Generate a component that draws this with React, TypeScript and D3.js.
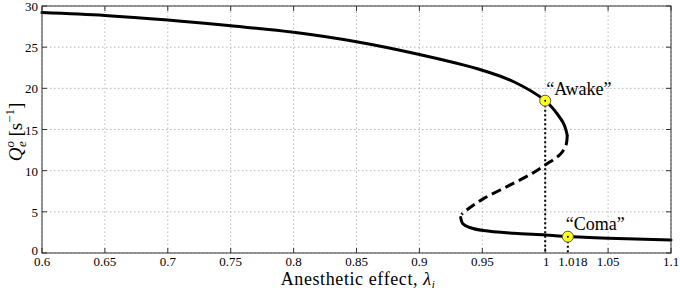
import React from "react";
import * as d3 from "d3";

const xTicks = [0.6, 0.65, 0.7, 0.75, 0.8, 0.85, 0.9, 0.95, 1, 1.018, 1.05, 1.1];
const xGridTicks = [0.6, 0.65, 0.7, 0.75, 0.8, 0.85, 0.9, 0.95, 1, 1.05, 1.1];
const yTicks = [0, 5, 10, 15, 20, 25, 30];

// [lambda, Q] points
const upperBranch: [number, number][] = [
  [0.6, 29.2], [0.65, 28.85], [0.7, 28.3], [0.75, 27.6], [0.8, 26.8], [0.85, 25.65],
  [0.9, 24.1], [0.95, 22.2], [0.975, 20.8], [1.0, 18.5], [1.009, 17.0], [1.015, 15.6],
  [1.0175, 14.3],
];
const unstableBranch: [number, number][] = [
  [1.0175, 14.3], [1.0165, 13.1], [1.012, 12.0], [1.0, 10.7], [0.99, 9.7], [0.97, 8.1],
  [0.951, 6.6], [0.94, 5.5], [0.9335, 4.7],
];
const lowerBranch: [number, number][] = [
  [0.9328, 4.3], [0.9345, 3.55], [0.94, 3.1], [0.951, 2.72], [0.975, 2.39], [1.0, 2.19],
  [1.018, 2.0], [1.05, 1.8], [1.1, 1.58],
];
const states = [
  { name: "\u201CAwake\u201D", lambda: 1.0, q: 18.5 },
  { name: "\u201CComa\u201D", lambda: 1.018, q: 1.98 },
];

const W = 680, H = 290;
const M = { left: 42, right: 9, top: 6, bottom: 37 };

export default function App() {
  const x = d3.scaleLinear().domain([0.6, 1.1]).range([M.left, W - M.right]);
  const y = d3.scaleLinear().domain([0, 30]).range([H - M.bottom, M.top]);
  const line = d3.line<[number, number]>().x(d => x(d[0])).y(d => y(d[1])).curve(d3.curveCatmullRom.alpha(0.5));
  const x0 = M.left, x1 = W - M.right, y0 = H - M.bottom, y1 = M.top;
  const serif = "'Liberation Serif', 'DejaVu Serif', serif";
  const labelX = (t: number) => (t === 1.018 ? x(t) + 5 : t === 1 ? x(t) + 1 : x(t));
  return (
    <svg width={W} height={H} style={{ position: "absolute", left: 0, top: 0, background: "#fff" }} fontFamily={serif}>
      {/* grid */}
      {xGridTicks.map(t => (
        <line key={"gx" + t} x1={x(t)} x2={x(t)} y1={y0} y2={y1} stroke="#b8b8b8" strokeWidth={1} strokeDasharray="1.5,2.5" />
      ))}
      {yTicks.map(t => (
        <line key={"gy" + t} x1={x0} x2={x1} y1={y(t)} y2={y(t)} stroke="#b8b8b8" strokeWidth={1} strokeDasharray="1.5,2.5" />
      ))}
      {/* ticks */}
      {xGridTicks.map(t => (
        <g key={"tx" + t} stroke="#333" strokeWidth={1}>
          <line x1={x(t)} x2={x(t)} y1={y0} y2={y0 - 5} />
          <line x1={x(t)} x2={x(t)} y1={y1} y2={y1 + 5} />
        </g>
      ))}
      {yTicks.map(t => (
        <g key={"ty" + t} stroke="#333" strokeWidth={1}>
          <line x1={x0} x2={x0 + 5} y1={y(t)} y2={y(t)} />
          <line x1={x1} x2={x1 - 5} y1={y(t)} y2={y(t)} />
        </g>
      ))}
      {/* drop lines */}
      {states.map(s => (
        <line key={"d" + s.name} x1={x(s.lambda)} x2={x(s.lambda)} y1={y(s.q)} y2={y0} stroke="#000" strokeWidth={2} strokeDasharray="2,2.5" />
      ))}
      {/* curves */}
      <path d={line(upperBranch) || ""} fill="none" stroke="#000" strokeWidth={3} strokeLinecap="round" />
      <path d={line(unstableBranch) || ""} fill="none" stroke="#000" strokeWidth={3} strokeDasharray="10,5" />
      <path d={line(lowerBranch) || ""} fill="none" stroke="#000" strokeWidth={3} strokeLinecap="round" />
      {/* state markers */}
      {states.map(s => (
        <g key={"m" + s.name}>
          <circle cx={x(s.lambda)} cy={y(s.q)} r={5.5} fill="#ffff1a" stroke="#555" strokeWidth={1} />
          <circle cx={x(s.lambda)} cy={y(s.q)} r={1} fill="#000" />
        </g>
      ))}
      <text x={x(1.0) + 1} y={y(18.5) - 6} fontSize={18}>{states[0].name}</text>
      <text x={x(1.018) - 2} y={y(1.98) - 7} fontSize={18}>{states[1].name}</text>
      {/* frame */}
      <rect x={x0} y={y1} width={x1 - x0} height={y0 - y1} fill="none" stroke="#333" strokeWidth={1} />
      {/* tick labels */}
      {xTicks.map(t => (
        <text key={"lx" + t} x={labelX(t)} y={y0 + 13} fontSize={13} textAnchor="middle">{String(t)}</text>
      ))}
      {yTicks.map(t => (
        <text key={"ly" + t} x={x0 - 4} y={y(t) + (t === 0 ? 2 : 5)} fontSize={13} textAnchor="end">{String(t)}</text>
      ))}
      {/* axis labels */}
      <text x={358} y={285} fontSize={18} letterSpacing={0.6} textAnchor="middle">
        Anesthetic effect, <tspan fontStyle="italic">λ</tspan><tspan fontStyle="italic" fontSize={11} dy={3}>i</tspan>
      </text>
      <text transform={`translate(22, ${132}) rotate(-90)`} fontSize={19} textAnchor="middle">
        <tspan fontStyle="italic">Q</tspan>
        <tspan fontStyle="italic" fontSize={13} dy={-8}>o</tspan>
        <tspan fontStyle="italic" fontSize={13} dx={-6} dy={12}>e</tspan>
        <tspan dy={-4}> [s</tspan>
        <tspan fontSize={13} dy={-8}>−1</tspan>
        <tspan dy={8}>]</tspan>
      </text>
    </svg>
  );
}
